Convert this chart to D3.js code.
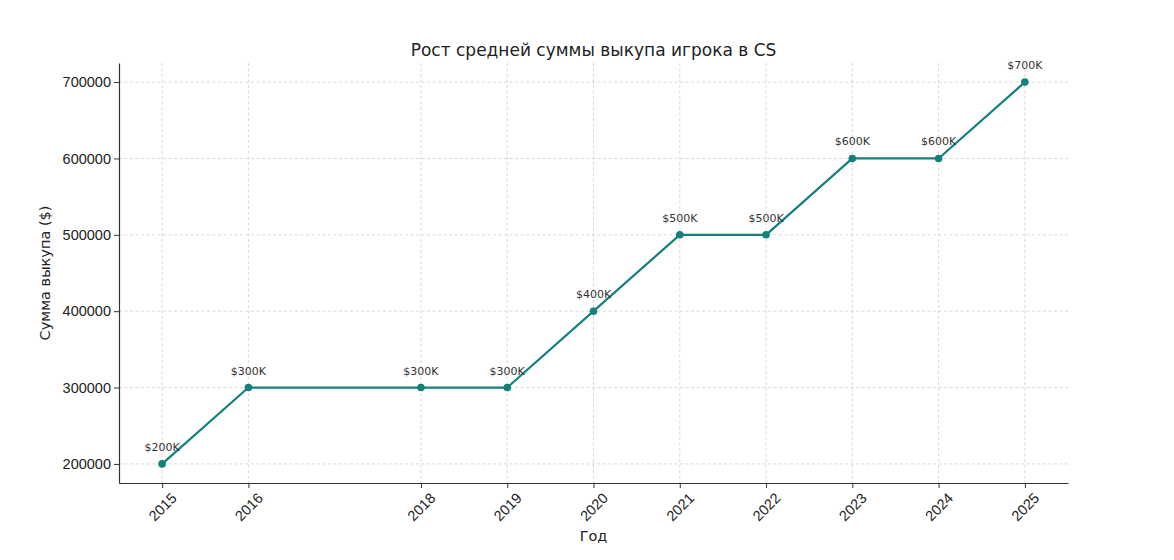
<!DOCTYPE html>
<html>
<head>
<meta charset="utf-8">
<script src="https://cdn.jsdelivr.net/npm/d3@7"></script>
<style>
  body { margin: 0; background: #fff; }
  svg { font-family: "DejaVu Sans", sans-serif; }
  .grid line { stroke: #cfcfcf; stroke-width: 0.8; stroke-dasharray: 3,2.5; }
</style>
</head>
<body>
<svg width="1174" height="560"></svg>
<script>
// data
var years = [2015, 2016, 2018, 2019, 2020, 2021, 2022, 2023, 2024, 2025];
var buyouts = [200000, 300000, 300000, 300000, 400000, 500000, 500000, 600000, 600000, 700000];
var pointLabels = ['$200K', '$300K', '$300K', '$300K', '$400K', '$500K', '$500K', '$600K', '$600K', '$700K'];
var yTicks = [200000, 300000, 400000, 500000, 600000, 700000];

var main = function() {
	var svg = d3.select('svg');

	var mLeft = 119, mRight = 1068, mTop = 63, mBottom = 483;
	var lineColor = '#13807b';

	var x = d3.scaleLinear().domain([2014.5, 2025.5]).range([mLeft, mRight]);
	var y = d3.scaleLinear().domain([175000, 725000]).range([mBottom, mTop]);

	var dataSet = years.map(function(yr, i) {
		return {year: yr, v: buyouts[i], label: pointLabels[i]};
	});

	// grid
	var grid = svg.append('g').attr('class', 'grid');
	grid.selectAll('line.gx')
		.data(years)
		.enter()
		.append('line')
		.attr('class', 'gx')
		.attr('x1', function(d) { return x(d); })
		.attr('x2', function(d) { return x(d); })
		.attr('y1', mTop)
		.attr('y2', mBottom);
	grid.selectAll('line.gy')
		.data(yTicks)
		.enter()
		.append('line')
		.attr('class', 'gy')
		.attr('x1', mLeft)
		.attr('x2', mRight)
		.attr('y1', function(d) { return y(d); })
		.attr('y2', function(d) { return y(d); });

	// axes
	var xAxis = svg.append('g')
		.attr('transform', 'translate(0,' + mBottom + ')')
		.call(d3.axisBottom(x).tickValues(years).tickFormat(d3.format('d')).tickSizeInner(5).tickSizeOuter(0));
	xAxis.selectAll('text')
		.attr('font-size', 14.5)
		.attr('fill', '#222')
		.attr('text-anchor', 'middle')
		.attr('dominant-baseline', 'central')
		.attr('y', 0)
		.attr('dy', 0)
		.attr('transform', 'translate(0,24) rotate(-45)');

	var yAxis = svg.append('g')
		.attr('transform', 'translate(' + mLeft + ',0)')
		.call(d3.axisLeft(y).tickValues(yTicks).tickFormat(d3.format('d')).tickSizeInner(5).tickSizeOuter(0).tickPadding(3));
	yAxis.selectAll('text').attr('font-size', 14.5).attr('fill', '#222');

	svg.selectAll('.domain').attr('stroke', '#333').attr('stroke-width', 1.2);
	svg.selectAll('.tick line').attr('stroke', '#333');

	// line
	var line = d3.line()
		.x(function(d) { return x(d.year); })
		.y(function(d) { return y(d.v); });

	svg.append('path')
		.datum(dataSet)
		.attr('d', line)
		.attr('fill', 'none')
		.attr('stroke', lineColor)
		.attr('stroke-width', 2.2);

	svg.selectAll('circle')
		.data(dataSet)
		.enter()
		.append('circle')
		.attr('cx', function(d) { return x(d.year); })
		.attr('cy', function(d) { return y(d.v); })
		.attr('r', 3.8)
		.attr('fill', lineColor);

	svg.selectAll('text.pt')
		.data(dataSet)
		.enter()
		.append('text')
		.attr('class', 'pt')
		.attr('x', function(d) { return x(d.year); })
		.attr('y', function(d) { return y(d.v) - 13; })
		.attr('text-anchor', 'middle')
		.attr('font-size', 11)
		.attr('fill', '#333')
		.text(function(d) { return d.label; });

	// titles
	svg.append('text')
		.attr('x', (mLeft + mRight) / 2)
		.attr('y', 56)
		.attr('text-anchor', 'middle')
		.attr('font-size', 17)
		.attr('fill', '#222')
		.text('Рост средней суммы выкупа игрока в CS');

	svg.append('text')
		.attr('x', (mLeft + mRight) / 2)
		.attr('y', 541)
		.attr('text-anchor', 'middle')
		.attr('font-size', 14.5)
		.attr('fill', '#222')
		.text('Год');

	svg.append('text')
		.attr('transform', 'translate(50,' + (mTop + mBottom) / 2 + ') rotate(-90)')
		.attr('text-anchor', 'middle')
		.attr('font-size', 14.5)
		.attr('fill', '#222')
		.text('Сумма выкупа ($)');
};

main();
</script>
</body>
</html>
